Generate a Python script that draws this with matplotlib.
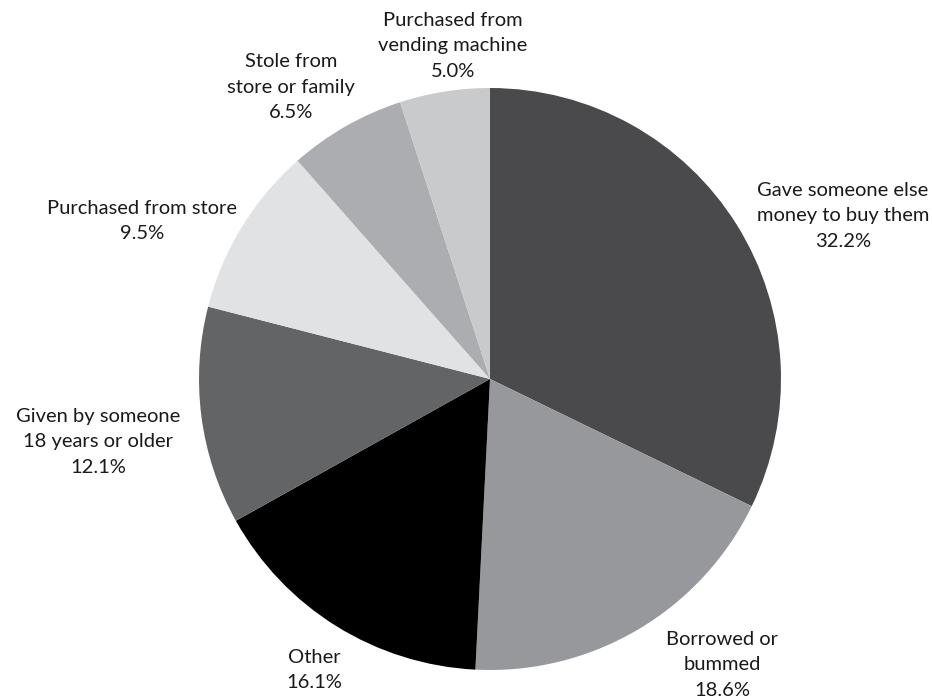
import matplotlib
matplotlib.use('Agg')
import matplotlib.pyplot as plt

# slices, clockwise from 12 o'clock
labels = ['Gave someone else\nmoney to buy them', 'Borrowed or\nbummed', 'Other',
          'Given by someone\n18 years or older', 'Purchased from store',
          'Stole from\nstore or family', 'Purchased from\nvending machine']
shares = [32.2, 18.6, 16.1, 12.1, 9.5, 6.5, 5.0]
colors = ['#4a4a4c', '#97989b', '#000000', '#636466', '#e1e2e4', '#acadb0', '#c9cacc']

# where each label block is centred (pixels from top-left)
label_xy = [(843, 216), (722, 665), (314, 670), (98, 442), (142, 221), (291, 87), (453, 46)]

W, H = 932, 700
fig = plt.figure(figsize=(W / 100, H / 100), dpi=100)
ax = fig.add_axes([0, 0, 1, 1])

ax.pie(shares, colors=colors, startangle=90, counterclock=False,
       center=(490, H - 379), radius=291, wedgeprops={'linewidth': 0})

for lab, val, (x, y) in zip(labels, shares, label_xy):
    ax.text(x, H - y, f'{lab}\n{val:.1f}%', ha='center', va='center',
            fontsize=14.5, family='Lato', linespacing=1.62, color='#1a1a1a')

ax.set_xlim(0, W)
ax.set_ylim(0, H)
ax.set_aspect('equal')
ax.axis('off')

fig.savefig('out.png', dpi=100, facecolor='white')
